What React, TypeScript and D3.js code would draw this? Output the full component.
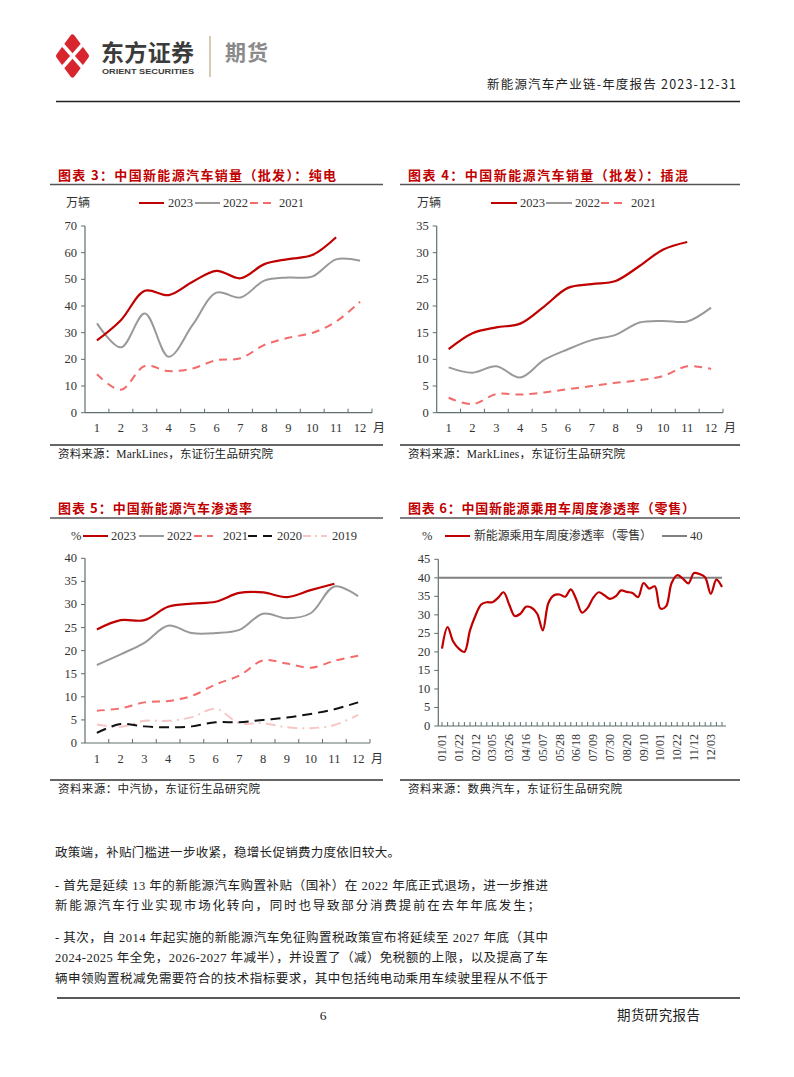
import React from "react";
import * as d3 from "d3";

// ---------- data ----------
const months = ["1", "2", "3", "4", "5", "6", "7", "8", "9", "10", "11", "12"];

const bev2023 = [27.1, 34.7, 45.7, 44.1, 49.1, 53.2, 50.4, 55.7, 57.6, 59.1, 65.8];
const bev2022 = [33.5, 24.5, 37.2, 21.0, 32.9, 45.0, 43.2, 49.5, 50.7, 51.0, 57.5, 57.0];
const bev2021 = [14.4, 8.6, 17.5, 15.6, 16.6, 19.7, 20.4, 25.4, 28.1, 29.9, 34.2, 41.6];

const phev2023 = [11.9, 14.9, 16.0, 16.7, 19.9, 23.4, 24.1, 24.7, 27.5, 30.6, 32.0];
const phev2022 = [8.5, 7.5, 8.7, 6.6, 9.9, 11.9, 13.6, 14.6, 16.9, 17.2, 17.1, 19.7];
const phev2021 = [2.8, 1.6, 3.5, 3.4, 3.8, 4.4, 5.0, 5.6, 6.1, 6.9, 8.7, 8.2];

const pen2023 = [24.6, 26.6, 26.6, 29.5, 30.2, 30.6, 32.5, 32.6, 31.6, 33.1, 34.5];
const pen2022 = [16.9, 19.2, 21.7, 25.4, 23.8, 23.8, 24.5, 28.0, 27.0, 28.1, 33.9, 31.8];
const pen2021 = [7.0, 7.5, 8.8, 9.1, 10.2, 12.7, 14.6, 17.9, 17.2, 16.3, 17.8, 18.9];
const pen2020 = [2.2, 4.1, 3.6, 3.4, 3.6, 4.5, 4.5, 5.0, 5.5, 6.3, 7.3, 8.8];
const pen2019 = [4.0, 3.5, 4.8, 4.8, 5.6, 7.4, 4.3, 4.3, 3.4, 3.2, 3.9, 6.1];

const weekTickLabels = ["01/01", "01/22", "02/12", "03/05", "03/26", "04/16", "05/07", "05/28", "06/18", "07/09", "07/30", "08/20", "09/10", "10/01", "10/22", "11/12", "12/03"];
const weeklyPen = [
  20.9, 26.7, 22.8, 20.9, 20.0, 25.8, 29.9, 32.8, 33.4, 33.4,
  34.6, 36.1, 32.8, 29.7, 30.3, 32.2, 31.9, 30.3, 25.8, 33.2,
  35.3, 35.5, 34.9, 36.9, 34.1, 30.6, 31.9, 34.6, 36.1, 35.3,
  34.3, 35.0, 36.6, 36.2, 35.9, 34.8, 38.6, 37.1, 37.7, 31.7,
  32.3, 38.6, 40.7, 39.8, 38.5, 41.3, 41.0, 40.1, 35.7, 39.5, 37.5,
];
const benchmark = 40;

const bodyLines = [
  "政策端，补贴门槛进一步收紧，稳增长促销费力度依旧较大。",
  "- 首先是延续 13 年的新能源汽车购置补贴（国补）在 2022 年底正式退场，进一步推进",
  "新能源汽车行业实现市场化转向，同时也导致部分消费提前在去年年底发生；",
  "- 其次，自 2014 年起实施的新能源汽车免征购置税政策宣布将延续至 2027 年底（其中",
  "2024-2025 年全免，2026-2027 年减半），并设置了（减）免税额的上限，以及提高了车",
  "辆申领购置税减免需要符合的技术指标要求，其中包括纯电动乘用车续驶里程从不低于",
];

// ---------- styles ----------
const SERIF = "'Liberation Serif','Times New Roman',serif";
const CJK = "'Noto Sans CJK SC','Noto Sans',sans-serif";
const MIX = "'Liberation Serif','Noto Sans CJK SC',serif";
const AXIS = "#5f6f6f";
const RED = "#c00000";
const GRAY = "#999999";
const PINK = "#f36b6b";
const TITLE_RED = "#c00000";

type Series = { values: number[]; color: string; width: number; dash?: string };

const smooth = d3.curveCatmullRom.alpha(0.5);

function MonthChart(props: {
  x0: number; x1: number; y0: number; y1: number; yMax: number; yStep: number; series: Series[];
}) {
  const { x0, x1, y0, y1, yMax, yStep, series } = props;
  const band = d3.scaleBand<string>().domain(months).range([x0, x1]);
  const y = d3.scaleLinear().domain([0, yMax]).range([y0, y1]);
  const cx = (i: number) => (band(months[i]) as number) + band.bandwidth() / 2;
  const line = d3.line<number>().x((_, i) => cx(i)).y((d) => y(d)).curve(smooth);
  const ticks = d3.range(0, yMax + 0.001, yStep);
  return (
    <g>
      <line x1={x0} x2={x0} y1={y0} y2={y1} stroke={AXIS} strokeWidth={1.2} />
      <line x1={x0} x2={x1} y1={y0} y2={y0} stroke={AXIS} strokeWidth={1.2} />
      {ticks.map((t) => (
        <g key={t}>
          <line x1={x0 - 4} x2={x0} y1={y(t)} y2={y(t)} stroke={AXIS} strokeWidth={1} />
          <text x={x0 - 8} y={y(t) + 4} textAnchor="end" fontFamily={SERIF} fontSize={12.5} fill="#333">{t}</text>
        </g>
      ))}
      {months.map((m, i) => (
        <g key={m}>
          <line x1={(band(m) as number) + band.bandwidth()} x2={(band(m) as number) + band.bandwidth()} y1={y0} y2={y0 - 4} stroke={AXIS} strokeWidth={1} />
          <text x={cx(i)} y={y0 + 19.5} textAnchor="middle" fontFamily={SERIF} fontSize={12.5} fill="#333">{m}</text>
        </g>
      ))}
      <text x={x1 + 1} y={y0 + 19.5} fontFamily={CJK} fontSize={12} fill="#333">月</text>
      {series.map((s, k) => (
        <path key={k} d={line(s.values) || ""} fill="none" stroke={s.color} strokeWidth={s.width} strokeDasharray={s.dash} strokeLinejoin="round" />
      ))}
    </g>
  );
}

function LegendItem({ x, y, len, color, width, dash, label, tx }: any) {
  return (
    <g>
      <line x1={x} x2={x + len} y1={y} y2={y} stroke={color} strokeWidth={width} strokeDasharray={dash} />
      <text x={tx} y={y + 4.3} fontFamily={MIX} fontSize={12.5} fill="#333">{label}</text>
    </g>
  );
}

function Frame({ x0, x1, titleY, title, titleEnd, lineY, srcY, source, srcEnd }: any) {
  return (
    <g>
      <text x={x0 + 8} y={titleY} fontFamily={CJK} fontWeight={700} fontSize={13} fill={TITLE_RED} textLength={titleEnd - x0 - 8} lengthAdjust="spacing">{title}</text>
      <line x1={x0} x2={x1} y1={lineY} y2={lineY} stroke="#555" strokeWidth={1.3} />
      <line x1={x0} x2={x1} y1={srcY} y2={srcY} stroke="#333" strokeWidth={1.3} />
      <text x={x0 + 8} y={srcY + 13} fontFamily={MIX} fontSize={11.5} fill="#222" textLength={srcEnd - x0 - 8} lengthAdjust="spacing">{source}</text>
    </g>
  );
}

function WeeklyChart() {
  const x0 = 438.3, x1 = 726, y0 = 726, y1 = 559.3;
  const idx = weeklyPen.map((_, i) => i);
  const x = d3.scaleLinear().domain([0, weeklyPen.length - 1]).range([442, 722]);
  const y = d3.scaleLinear().domain([0, 45]).range([y0, y1]);
  const line = d3.line<number>().x((_, i) => x(i)).y((d) => y(d)).curve(smooth);
  const ticks = d3.range(0, 45.001, 5);
  return (
    <g>
      <line x1={x0} x2={x0} y1={y0} y2={y1} stroke={AXIS} strokeWidth={1.2} />
      <line x1={x0} x2={x1} y1={y0} y2={y0} stroke={AXIS} strokeWidth={1.2} />
      {ticks.map((t) => (
        <g key={t}>
          <line x1={x0 - 4} x2={x0} y1={y(t)} y2={y(t)} stroke={AXIS} strokeWidth={1} />
          <text x={x0 - 8} y={y(t) + 4} textAnchor="end" fontFamily={SERIF} fontSize={12.5} fill="#333">{t}</text>
        </g>
      ))}
      {idx.map((i) => (
        <line key={i} x1={x(i)} x2={x(i)} y1={y0} y2={y0 - 4} stroke={AXIS} strokeWidth={1} />
      ))}
      {weekTickLabels.map((lab, k) => (
        <text key={lab} transform={`translate(${x(k * 3)},${y0 + 8}) rotate(-90)`} textAnchor="end" dominantBaseline="central" fontFamily={SERIF} fontSize={12} fill="#333">{lab}</text>
      ))}
      <line x1={x0} x2={x(weeklyPen.length - 1)} y1={y(benchmark)} y2={y(benchmark)} stroke="#808080" strokeWidth={2} />
      <path d={line(weeklyPen) || ""} fill="none" stroke={RED} strokeWidth={2.2} strokeLinejoin="round" />
    </g>
  );
}

function Logo() {
  return (
    <g>
      <path d="M72.5,37 L86.5,56 L72.5,75 L58.5,56 Z" fill="#d7262e" stroke="#d7262e" strokeWidth={5} strokeLinejoin="round" />
      <line x1={62} y1={44} x2={83} y2={68} stroke="#fff" strokeWidth={3.6} />
      <line x1={83} y1={44} x2={62} y2={68} stroke="#fff" strokeWidth={3.6} />
    </g>
  );
}

export default function App() {
  const bodyEnds = [400, 548, 540, 548, 548, 548];
  const bodyY = [857, 890, 910, 942, 962, 983];
  return (
    <svg width={794} height={1077} style={{ position: "absolute", left: 0, top: 0, background: "#fff" }}>
      <rect x={0} y={0} width={794} height={1077} fill="#fff" />
      {/* header */}
      <Logo />
      <text x={101} y={61} fontFamily={CJK} fontWeight={700} fontSize={23} fill="#3b3b3b" textLength={93} lengthAdjust="spacing">东方证券</text>
      <text x={102} y={73.5} fontFamily="'Liberation Sans',Arial,sans-serif" fontWeight={700} fontSize={8} fill="#3b3b3b" textLength={92} lengthAdjust="spacingAndGlyphs">ORIENT SECURITIES</text>
      <line x1={210} x2={210} y1={36} y2={77} stroke="#c9b99b" strokeWidth={1.5} />
      <text x={225} y={60} fontFamily={CJK} fontWeight={700} fontSize={21} fill="#8a8a8a" textLength={43} lengthAdjust="spacing">期货</text>
      <text x={736} y={89} textAnchor="end" fontFamily={CJK} fontSize={12.5} fill="#222" textLength={249} lengthAdjust="spacing">新能源汽车产业链-年度报告 2023-12-31</text>
      <line x1={56} x2={740} y1={101.5} y2={101.5} stroke="#222" strokeWidth={1.3} />

      {/* chart 3 */}
      <Frame x0={50} x1={383} titleY={180} title="图表 3：中国新能源汽车销量（批发）：纯电" titleEnd={336} lineY={184.5} srcY={445} source="资料来源：MarkLines，东证衍生品研究院" srcEnd={273} />
      <text x={66} y={207} fontFamily={CJK} fontSize={12} fill="#333">万辆</text>
      <LegendItem x={139} y={203} len={25} color={RED} width={2} label="2023" tx={168} />
      <LegendItem x={195} y={203} len={25} color={GRAY} width={2} label="2022" tx={223} />
      <LegendItem x={250} y={203} len={21} color={PINK} width={2} dash="8 5" label="2021" tx={279} />
      <MonthChart x0={85} x1={372} y0={412.7} y1={226} yMax={70} yStep={10} series={[
        { values: bev2021, color: PINK, width: 2, dash: "8 6" },
        { values: bev2022, color: GRAY, width: 2 },
        { values: bev2023, color: RED, width: 2.2 },
      ]} />

      {/* chart 4 */}
      <Frame x0={400} x1={740} titleY={180} title="图表 4：中国新能源汽车销量（批发）：插混" titleEnd={688} lineY={184.5} srcY={445} source="资料来源：MarkLines，东证衍生品研究院" srcEnd={625} />
      <text x={417} y={207} fontFamily={CJK} fontSize={12} fill="#333">万辆</text>
      <LegendItem x={491} y={203} len={26} color={RED} width={2} label="2023" tx={520} />
      <LegendItem x={546} y={203} len={26} color={GRAY} width={2} label="2022" tx={575} />
      <LegendItem x={601} y={203} len={21} color={PINK} width={2} dash="8 5" label="2021" tx={631} />
      <MonthChart x0={436.7} x1={723} y0={412.7} y1={226} yMax={35} yStep={5} series={[
        { values: phev2021, color: PINK, width: 2, dash: "8 6" },
        { values: phev2022, color: GRAY, width: 2 },
        { values: phev2023, color: RED, width: 2.2 },
      ]} />

      {/* chart 5 */}
      <Frame x0={50} x1={383} titleY={513} title="图表 5：中国新能源汽车渗透率" titleEnd={252} lineY={518} srcY={780} source="资料来源：中汽协，东证衍生品研究院" srcEnd={260} />
      <text x={71} y={540} fontFamily={SERIF} fontSize={12.5} fill="#333">%</text>
      <LegendItem x={83} y={536} len={25} color={RED} width={2} label="2023" tx={111} />
      <LegendItem x={139} y={536} len={25} color={GRAY} width={2} label="2022" tx={167} />
      <LegendItem x={194} y={536} len={19} color={PINK} width={2} dash="8 5" label="2021" tx={223} />
      <LegendItem x={248} y={536} len={25} color="#111" width={2} dash="9 6" label="2020" tx={277} />
      <LegendItem x={303} y={536} len={24} color="#f7c6c6" width={2} dash="8 4 2 4" label="2019" tx={332} />
      <MonthChart x0={85} x1={370} y0={743} y1={558.3} yMax={40} yStep={5} series={[
        { values: pen2019, color: "#f7c6c6", width: 2, dash: "10 5 2 5" },
        { values: pen2020, color: "#111", width: 2, dash: "10 6" },
        { values: pen2021, color: PINK, width: 2, dash: "8 6" },
        { values: pen2022, color: GRAY, width: 2 },
        { values: pen2023, color: RED, width: 2.2 },
      ]} />

      {/* chart 6 */}
      <Frame x0={400} x1={740} titleY={513} title="图表 6：中国新能源乘用车周度渗透率（零售）" titleEnd={695} lineY={518} srcY={780} source="资料来源：数典汽车，东证衍生品研究院" srcEnd={622} />
      <text x={422} y={540} fontFamily={SERIF} fontSize={12.5} fill="#333">%</text>
      <line x1={445} x2={470} y1={536} y2={536} stroke={RED} strokeWidth={2} />
      <text x={474} y={540.3} fontFamily={CJK} fontSize={12} fill="#333" textLength={178} lengthAdjust="spacing">新能源乘用车周度渗透率（零售）</text>
      <line x1={662} x2={687} y1={536} y2={536} stroke="#808080" strokeWidth={2} />
      <text x={690} y={540.3} fontFamily={SERIF} fontSize={12.5} fill="#333">40</text>
      <WeeklyChart />

      {/* body text */}
      {bodyLines.map((t, i) => (
        <text key={i} x={55} y={bodyY[i]} fontFamily={MIX} fontSize={12.5} fill="#222" textLength={bodyEnds[i] - 55} lengthAdjust="spacing">{t}</text>
      ))}

      {/* footer */}
      <line x1={57} x2={740} y1={998} y2={998} stroke="#222" strokeWidth={1.3} />
      <text x={323} y={1020} textAnchor="middle" fontFamily={SERIF} fontSize={13.5} fill="#222">6</text>
      <text x={617} y={1020} fontFamily={CJK} fontSize={13.5} fill="#222" textLength={83} lengthAdjust="spacing">期货研究报告</text>
    </svg>
  );
}
